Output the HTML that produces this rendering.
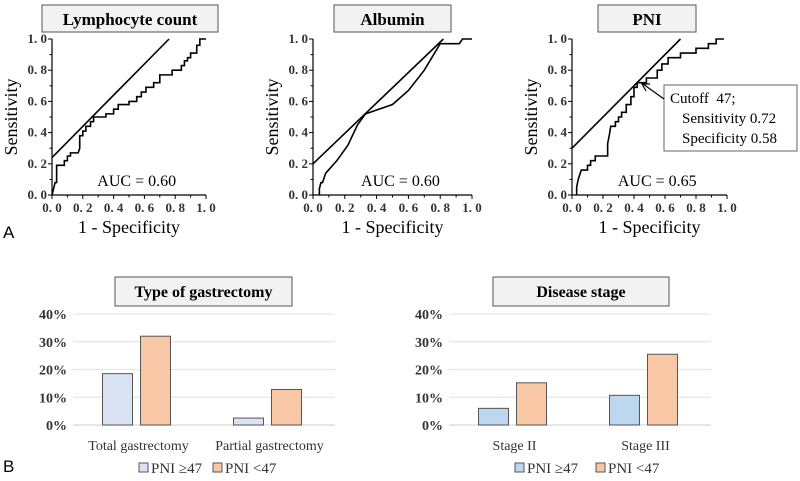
<!DOCTYPE html>
<html><head><meta charset="utf-8"><style>
body{margin:0;background:#fff;}
svg{display:block;font-family:"Liberation Serif",serif;}
.tk{white-space:pre;}
</style></head><body>
<svg id="s" width="800" height="481" viewBox="0 0 800 481" xmlns="http://www.w3.org/2000/svg"></svg>
<script>
// ROC data
const lymphX=[0,0.01,0.02,0.03,0.03,0.08,0.08,0.1,0.1,0.12,0.12,0.17,0.18,0.18,0.2,0.2,0.22,0.22,0.25,0.25,0.27,0.27,0.35,0.35,0.4,0.4,0.43,0.43,0.5,0.5,0.55,0.55,0.58,0.58,0.61,0.61,0.66,0.66,0.7,0.7,0.78,0.78,0.84,0.84,0.86,0.86,0.88,0.88,0.9,0.9,0.94,0.94,0.96,0.96,1];
const lymphY=[0,0.04,0.08,0.08,0.19,0.19,0.22,0.22,0.25,0.25,0.27,0.27,0.3,0.38,0.38,0.41,0.41,0.44,0.44,0.47,0.47,0.5,0.5,0.52,0.52,0.55,0.55,0.58,0.58,0.6,0.6,0.63,0.63,0.66,0.66,0.69,0.69,0.72,0.72,0.77,0.77,0.8,0.8,0.83,0.83,0.86,0.86,0.88,0.88,0.91,0.91,0.96,0.96,1,1];
const albX=[0.04,0.04,0.05,0.06,0.08,0.15,0.22,0.28,0.33,0.5,0.6,0.7,0.8,0.92,0.94,1];
const albY=[0,0.04,0.08,0.08,0.14,0.22,0.32,0.45,0.52,0.58,0.67,0.8,0.97,0.97,1,1];
const pniX=[0.03,0.03,0.04,0.05,0.06,0.1,0.1,0.12,0.12,0.15,0.15,0.23,0.23,0.24,0.25,0.28,0.28,0.3,0.3,0.32,0.32,0.35,0.35,0.38,0.38,0.4,0.4,0.42,0.42,0.48,0.48,0.55,0.55,0.58,0.58,0.62,0.62,0.7,0.7,0.8,0.8,0.88,0.88,0.93,0.93,0.98];
const pniY=[0,0.05,0.1,0.13,0.16,0.16,0.19,0.19,0.22,0.22,0.25,0.25,0.33,0.38,0.44,0.44,0.47,0.47,0.5,0.5,0.53,0.53,0.58,0.58,0.63,0.63,0.69,0.69,0.72,0.72,0.75,0.75,0.8,0.8,0.84,0.84,0.88,0.88,0.91,0.91,0.94,0.94,0.97,0.97,1,1];
const tangentLymph=[[0,0.24],[0.76,1]];
const tangentAlb=[[0,0.2],[0.82,1]];
const tangentPni=[[0,0.3],[0.7,1]];
const rocTicks=["0. 0","0. 2","0. 4","0. 6","0. 8","1. 0"];
// Bar data
const gastCats=["Total gastrectomy","Partial gastrectomy"];
const gastHigh=[18.5,2.5];
const gastLow=[32,12.8];
const stageCats=["Stage II","Stage III"];
const stageHigh=[6,10.7];
const stageLow=[15.2,25.5];
const pctTicks=["0%","10%","20%","30%","40%"];

const S=document.getElementById('s');
const NS="http://www.w3.org/2000/svg";
function el(tag,at,parent,txt){const e=document.createElementNS(NS,tag);for(const k in at)e.setAttribute(k,at[k]);if(txt!==undefined)e.textContent=txt;(parent||S).appendChild(e);return e;}

function roc(x0,x1,title,tb,xs,ys,tan,auc,name){
  const y0=195,y1=39;
  const g=el('g',{});
  
  
  const sx=v=>x0+v*(x1-x0), sy=v=>y0-v*(y0-y1);
  const bx=el('rect',{x:tb[0],y:5,width:tb[1]-tb[0],height:27,fill:'#f2f2f2',stroke:'#555','stroke-width':1},g);
  
  const t=el('text',{x:(tb[0]+tb[1])/2,y:25,'text-anchor':'middle','font-size':17,'font-weight':'bold'},g,title);
  
  el('line',{x1:x0,y1:y0,x2:x1,y2:y0,stroke:'#000','stroke-width':1.2},g);
  el('line',{x1:x0,y1:y0,x2:x0,y2:y1,stroke:'#000','stroke-width':1.2},g);
  for(let i=0;i<=10;i++){const v=i/10;const L=i%2?2.5:4;
    el('line',{x1:sx(v),y1:y0,x2:sx(v),y2:y0+L,stroke:'#000'},g);
    el('line',{x1:x0,y1:sy(v),x2:x0-L,y2:sy(v),stroke:'#000'},g);}
  rocTicks.forEach((s,i)=>{const v=i/5;
    el('text',{class:'tk',x:sx(v),y:212,'text-anchor':'middle','font-size':13,'font-weight':'bold',fill:'#333'},g,s);
    el('text',{class:'tk',x:x0-5,y:sy(v)+4,'text-anchor':'end','font-size':13,'font-weight':'bold',fill:'#333'},g,s);});
  el('text',{x:(x0+x1)/2,y:233,'text-anchor':'middle','font-size':18},g,'1 - Specificity');
  el('text',{x:0,y:0,'text-anchor':'middle','font-size':18,transform:`translate(${x0-35},${(y0+y1)/2}) rotate(-90)`},g,'Sensitivity');
  el('line',{x1:sx(tan[0][0]),y1:sy(tan[0][1]),x2:sx(tan[1][0]),y2:sy(tan[1][1]),stroke:'#000','stroke-width':1.6},g);
  const p=el('polyline',{points:xs.map((v,i)=>sx(v)+','+sy(ys[i])).join(' '),fill:'none',stroke:'#000','stroke-width':1.6},g);
  
  el('text',{x:sx(0.55),y:186,'text-anchor':'middle','font-size':16},g,'AUC = '+auc);
}
roc(52,206,'Lymphocyte count',[42,218],lymphX,lymphY,tangentLymph,'0.60','lymphocyte');
roc(313,472,'Albumin',[334,451],albX,albY,tangentAlb,'0.60','albumin');
roc(572,727,'PNI',[598,696],pniX,pniY,tangentPni,'0.65','pni');
// annotation
const ab=el('rect',{x:664,y:85,width:133,height:66,fill:'#fff',stroke:'#666'});

el('text',{x:670,y:103,'font-size':15,class:'tk'},S,'Cutoff  47;');
el('text',{x:682,y:123,'font-size':15},S,'Sensitivity 0.72');
el('text',{x:682,y:143,'font-size':15},S,'Specificity 0.58');
el('line',{x1:664,y1:99,x2:643,y2:84,stroke:'#000','stroke-width':1.2});
el('polyline',{points:'646,91 642,84 650,84',fill:'none',stroke:'#000','stroke-width':1.2});
el('text',{x:3,y:238,'font-size':17,'font-family':'Liberation Sans, sans-serif'},S,'A');
el('text',{x:3,y:472,'font-size':17,'font-family':'Liberation Sans, sans-serif'},S,'B');

function bars(gx0,gx1,title,tb,cats,hi,lo,leg,name,colHi){
  const y0=425,y40=314;
  const g=el('g',{});
  
  const sy=v=>y0-v/40*(y0-y40);
  const bx=el('rect',{x:tb[0],y:277,width:tb[1]-tb[0],height:29,fill:'#f2f2f2',stroke:'#555'},g);
  
  el('text',{x:(tb[0]+tb[1])/2,y:297,'text-anchor':'middle','font-size':16,'font-weight':'bold'},g,title);
  pctTicks.forEach((s,i)=>{const v=i*10;
    el('line',{x1:gx0,y1:sy(v),x2:gx1,y2:sy(v),stroke:i?'#e6e6e6':'#d9d9d9','stroke-width':1.2},g);
    el('text',{x:gx0-6,y:sy(v)+5,'text-anchor':'end','font-size':14,'font-weight':'bold',fill:'#333'},g,s);});
  const cw=(gx1-gx0)/cats.length;
  cats.forEach((c,i)=>{const cx=gx0+cw*(i+0.5);
    const b1=el('rect',{x:cx-36,y:sy(hi[i]),width:30,height:y0-sy(hi[i]),fill:colHi,stroke:'#555'},g);
    
    const b2=el('rect',{x:cx+2,y:sy(lo[i]),width:30,height:y0-sy(lo[i]),fill:'#f8c7a6',stroke:'#555'},g);
    
    el('text',{x:cx,y:450,'text-anchor':'middle','font-size':14,fill:'#333'},g,c);});
  const lg=el('g',{},g);
  el('rect',{x:leg[0],y:463,width:9,height:9,fill:colHi,stroke:'#555'},lg);
  el('text',{x:leg[0]+12,y:473,'font-size':15,fill:'#333'},lg,'PNI \u226547');
  el('rect',{x:leg[1],y:463,width:9,height:9,fill:'#f8c7a6',stroke:'#555'},lg);
  el('text',{x:leg[1]+12,y:473,'font-size':15,fill:'#333'},lg,'PNI <47');
}
bars(73,335,'Type of gastrectomy',[115,292],gastCats,gastHigh,gastLow,[139,213],'gastrectomy','#dae3f3');
bars(449,711,'Disease stage',[493,669],stageCats,stageHigh,stageLow,[515,596],'stage','#bdd7ee');
</script>
</body></html>
